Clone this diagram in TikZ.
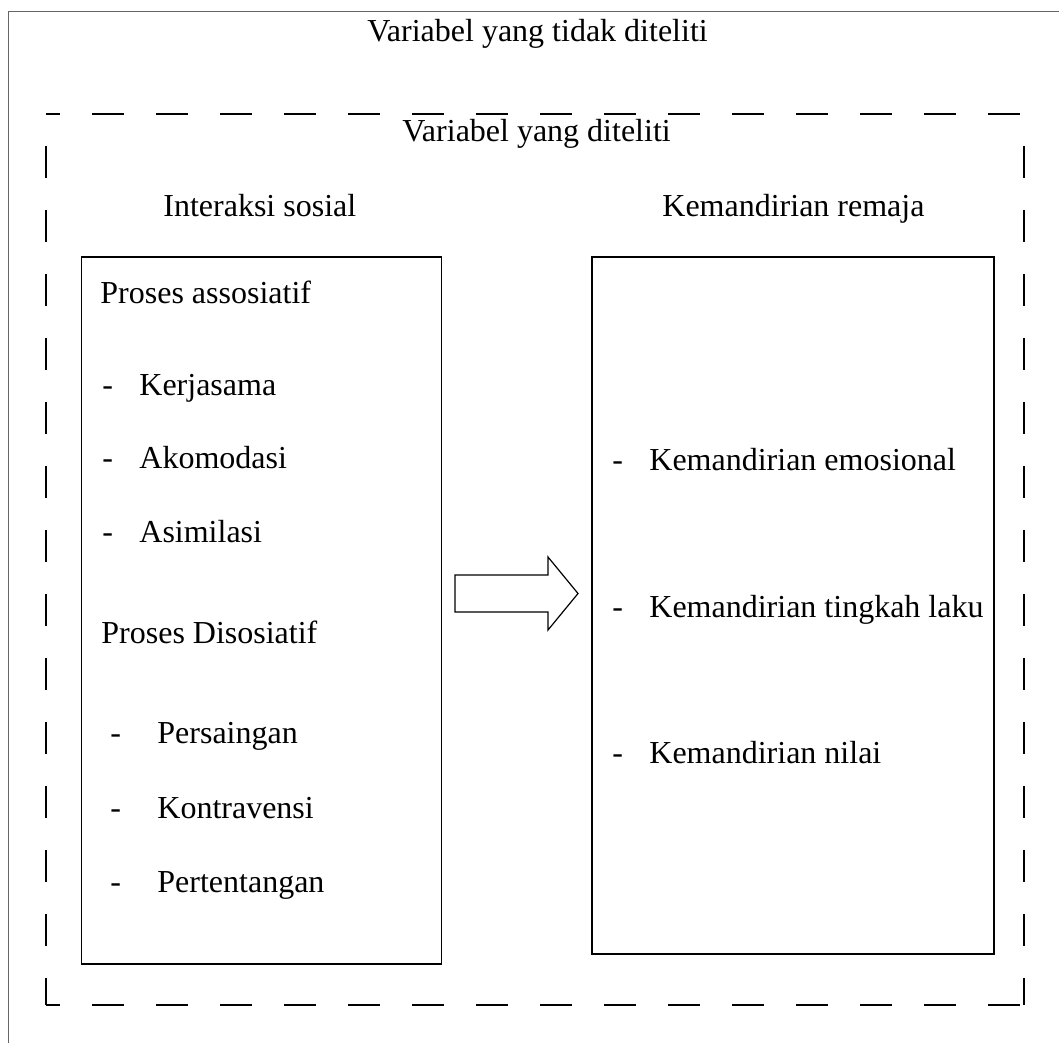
\documentclass[tikz,border=0pt]{standalone}
\usepackage{fontspec}
\setmainfont{Liberation Serif}
\usetikzlibrary{positioning}
\tikzset{
  lbl/.style={font=\fontsize{16}{19}\selectfont,inner sep=0pt,anchor=base west},
  varbox/.style={draw,line width=0.8pt,anchor=north west,inner sep=0pt},
  dashframe/.style={line width=1pt,dash pattern=on 16pt off 16pt},
  blockarrow/.style={draw,line width=0.6pt,fill=white}
}

\begin{document}
\begin{tikzpicture}[x=0.5pt,y=-0.5pt]
\useasboundingbox (0,0) rectangle (1059,1043);
% frame of the page
\draw[black!60,line width=0.6pt] (1059,11.5) -- (8.5,11.5) -- (8.5,1043);
\node[lbl] (untested) at (367,42) {Variabel yang tidak diteliti};
% dashed frame
\coordinate (fNW) at (46,114);
\coordinate (fNE) at (1024,114);
\coordinate (fSW) at (46,1005);
\coordinate (fSE) at (1024,1005);
\draw[dashframe,dash phase=9pt] (fNW) -- (fNE);
\draw[dashframe,dash phase=9pt] (fSW) -- (fSE);
\draw[dashframe,dash phase=16pt] (fNW) -- (fSW);
\draw[dashframe,dash phase=16pt] (fNE) -- (fSE);
\node[lbl] (tested) at (402,142) {Variabel yang diteliti};
\node[lbl] (headX) at (163,217) {Interaksi sosial};
\node[lbl] (headY) at (662,217) {Kemandirian remaja};
% the two variables
\node[varbox,minimum width=180pt,minimum height=353.5pt] (interaksi) at (80.5,256) {};
\node[varbox,minimum width=201pt,minimum height=348.5pt] (mandiri) at (591,256) {};
\node[lbl] (asos) at (100,303) {Proses assosiatif};
\node[lbl] at (102,395) {-}; \node[lbl] (kerja) at (139,395) {Kerjasama};
\node[lbl] at (102,468) {-}; \node[lbl] (akom) at (139,468) {Akomodasi};
\node[lbl] at (102,542) {-}; \node[lbl] (asim) at (139,542) {Asimilasi};
\node[lbl] (disos) at (101,643) {Proses Disosiatif};
\node[lbl] at (110,743) {-}; \node[lbl] (saing) at (157,743) {Persaingan};
\node[lbl] at (110,818) {-}; \node[lbl] (kontra) at (157,818) {Kontravensi};
\node[lbl] at (110,892) {-}; \node[lbl] (tentang) at (157,892) {Pertentangan};
\node[lbl] at (612,470) {-}; \node[lbl] (emosi) at (649,470) {Kemandirian emosional};
\node[lbl] at (612,617) {-}; \node[lbl] (laku) at (649,617) {Kemandirian tingkah laku};
\node[lbl] at (612,763) {-}; \node[lbl] (nilai) at (649,763) {Kemandirian nilai};
% block arrow
\draw[blockarrow] (455,575) -- (548,575) -- (548,557) -- (578,593.5)
  -- (548,630) -- (548,612) -- (455,612) -- cycle;
\end{tikzpicture}
\end{document}
